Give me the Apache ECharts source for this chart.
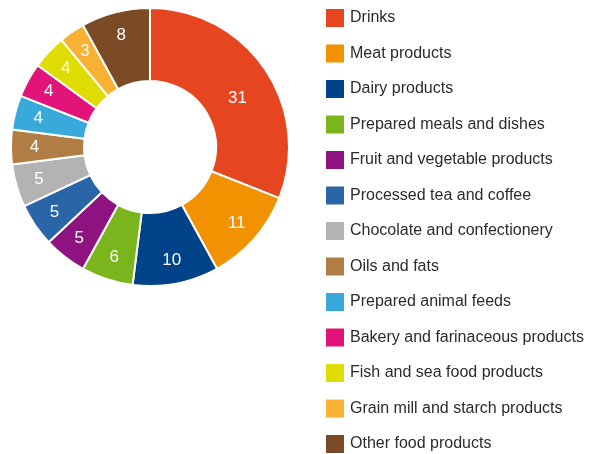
<!DOCTYPE html>
<html>
<head>
<meta charset="utf-8">
<script src="https://cdn.jsdelivr.net/npm/echarts@6/dist/echarts.min.js"></script>
<style>
  html, body { margin: 0; padding: 0; background: #fff; }
  #chart { width: 591px; height: 454px; }
</style>
</head>
<body>
<div id="chart"></div>
<script>
// Shares of the food and drink sector by branch (%)
const categories = [
  'Drinks',
  'Meat products',
  'Dairy products',
  'Prepared meals and dishes',
  'Fruit and vegetable products',
  'Processed tea and coffee',
  'Chocolate and confectionery',
  'Oils and fats',
  'Prepared animal feeds',
  'Bakery and farinaceous products',
  'Fish and sea food products',
  'Grain mill and starch products',
  'Other food products'
];
const shares = [31, 11, 10, 6, 5, 5, 5, 4, 4, 4, 4, 3, 8];
const palette = [
  '#E54620', '#F39200', '#004388', '#7AB51D', '#8E1380', '#2A65A8',
  '#B3B3B3', '#B07E45', '#39A9DC', '#E2147A', '#DEDC00', '#F8B133', '#7B4B26'
];

const font = 'Liberation Sans, Arial, sans-serif';
const CENTER = [150, 147];

const chart = echarts.init(document.getElementById('chart'), null, { renderer: 'canvas' });
chart.setOption({
  animation: false,
  color: palette,
  legend: {
    orient: 'vertical',
    left: 326,
    top: 9,
    height: 445,
    padding: 0,
    itemWidth: 18,
    itemHeight: 18,
    itemGap: 17.5,
    icon: 'rect',
    itemStyle: { borderWidth: 0 },
    data: categories,
    textStyle: {
      fontFamily: font,
      fontSize: 16,
      color: '#2b2b2b',
      padding: [0, 0, 0, 1],
      lineHeight: 18
    },
    selectedMode: false
  },
  series: [
    {
      // the donut itself
      type: 'pie',
      center: CENTER,
      radius: [66, 139],
      startAngle: 90,
      clockwise: true,
      itemStyle: { borderColor: '#fff', borderWidth: 2 },
      label: { show: false },
      labelLine: { show: false },
      emphasis: { disabled: true },
      data: categories.map((name, i) => ({ name, value: shares[i] }))
    },
    {
      // transparent ring that carries the value labels a little outward
      type: 'pie',
      center: CENTER,
      radius: [86, 139],
      startAngle: 90,
      clockwise: true,
      silent: true,
      itemStyle: { color: 'rgba(0,0,0,0)' },
      label: {
        show: true,
        position: 'inside',
        formatter: '{c}',
        color: '#fff',
        fontFamily: font,
        fontSize: 17
      },
      labelLine: { show: false },
      emphasis: { disabled: true },
      data: categories.map((name, i) => ({
        name,
        value: shares[i],
        label: i === 0 ? { offset: [-8, 16] } : undefined
      }))
    }
  ]
});
</script>
</body>
</html>
